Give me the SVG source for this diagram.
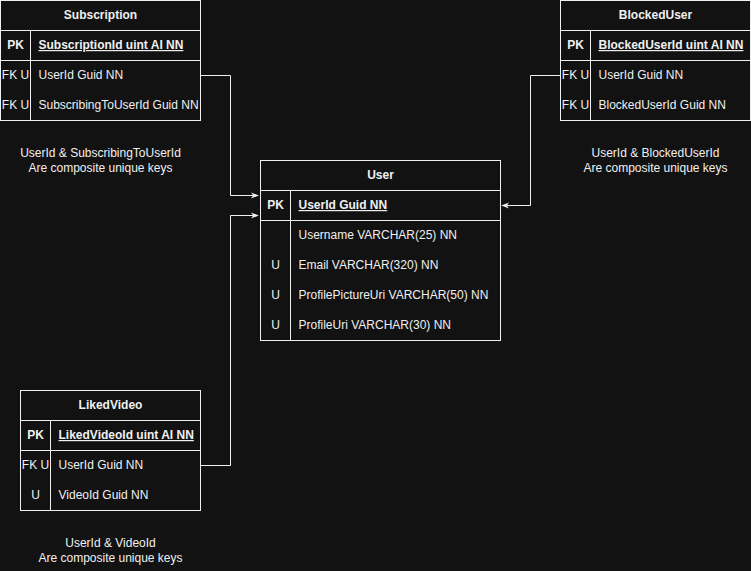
<svg xmlns="http://www.w3.org/2000/svg" width="751" height="571" viewBox="0 0 751 571">
<style>
.bg{fill:#121212}
.box{fill:#121212;stroke:#f0f0f0;stroke-width:1}
.ln{stroke:#f0f0f0;stroke-width:1;fill:none}
text{font-family:"Liberation Sans",Arial,sans-serif;font-size:12px;fill:#f0f0f0}
.h{font-weight:bold;text-anchor:middle}
.pk{font-weight:bold;text-decoration:underline}
.k{text-anchor:middle}
.kb{text-anchor:middle;font-weight:bold}
.note{text-anchor:middle}
</style>
<defs>
<marker id="arr" viewBox="0 0 10 10" refX="9" refY="5" markerWidth="8" markerHeight="8" markerUnits="userSpaceOnUse" orient="auto">
<path d="M0,1 L10,5 L0,9 L3,5 Z" fill="#f0f0f0"/>
</marker>
</defs>
<rect class="bg" x="0" y="0" width="751" height="571"/>
<g id="connectors">
<path class="ln" d="M200.5,75.5 H230.5 V195.5 H258" marker-end="url(#arr)"/>
<path class="ln" d="M200.5,465.5 H230.5 V215.5 H258" marker-end="url(#arr)"/>
<path class="ln" d="M560.5,75.5 H530.5 V205.5 H502" marker-end="url(#arr)"/>
</g>
<g id="subscription">
<rect class="box" x="0.5" y="0.5" width="200" height="120"/>
<path class="ln" d="M0.5,30.5 H200.5 M0.5,60.5 H200.5 M30.5,30.5 V120.5"/>
<text class="h" x="100.5" y="19">Subscription</text>
<text class="kb" x="15.5" y="49">PK</text>
<text class="pk" x="38.5" y="49">SubscriptionId uint AI NN</text>
<text class="k" x="15.5" y="79">FK U</text>
<text x="38.5" y="79">UserId Guid NN</text>
<text class="k" x="15.5" y="109">FK U</text>
<text x="38.5" y="109">SubscribingToUserId Guid NN</text>
</g>
<g id="subscription-note">
<text class="note" x="100.5" y="157">UserId &amp; SubscribingToUserId</text>
<text class="note" x="100.5" y="172">Are composite unique keys</text>
</g>
<g id="blockeduser">
<rect class="box" x="560.5" y="0.5" width="190" height="120"/>
<path class="ln" d="M560.5,30.5 H750.5 M560.5,60.5 H750.5 M590.5,30.5 V120.5"/>
<text class="h" x="655.5" y="19">BlockedUser</text>
<text class="kb" x="575.5" y="49">PK</text>
<text class="pk" x="598.5" y="49">BlockedUserId uint AI NN</text>
<text class="k" x="575.5" y="79">FK U</text>
<text x="598.5" y="79">UserId Guid NN</text>
<text class="k" x="575.5" y="109">FK U</text>
<text x="598.5" y="109">BlockedUserId Guid NN</text>
</g>
<g id="blockeduser-note">
<text class="note" x="655.5" y="157">UserId &amp; BlockedUserId</text>
<text class="note" x="655.5" y="172">Are composite unique keys</text>
</g>
<g id="user">
<rect class="box" x="260.5" y="160.5" width="240" height="180"/>
<path class="ln" d="M260.5,190.5 H500.5 M260.5,220.5 H500.5 M290.5,190.5 V340.5"/>
<text class="h" x="380.5" y="179">User</text>
<text class="kb" x="275.5" y="209">PK</text>
<text class="pk" x="298.5" y="209">UserId Guid NN</text>
<text x="298.5" y="239">Username VARCHAR(25) NN</text>
<text class="k" x="275.5" y="269">U</text>
<text x="298.5" y="269">Email VARCHAR(320) NN</text>
<text class="k" x="275.5" y="299">U</text>
<text x="298.5" y="299">ProfilePictureUri VARCHAR(50) NN</text>
<text class="k" x="275.5" y="329">U</text>
<text x="298.5" y="329">ProfileUri VARCHAR(30) NN</text>
</g>
<g id="likedvideo">
<rect class="box" x="20.5" y="390.5" width="180" height="120"/>
<path class="ln" d="M20.5,420.5 H200.5 M20.5,450.5 H200.5 M50.5,420.5 V510.5"/>
<text class="h" x="110.5" y="409">LikedVideo</text>
<text class="kb" x="35.5" y="439">PK</text>
<text class="pk" x="58.5" y="439">LikedVideoId uint AI NN</text>
<text class="k" x="35.5" y="469">FK U</text>
<text x="58.5" y="469">UserId Guid NN</text>
<text class="k" x="35.5" y="499">U</text>
<text x="58.5" y="499">VideoId Guid NN</text>
</g>
<g id="likedvideo-note">
<text class="note" x="110.5" y="547">UserId &amp; VideoId</text>
<text class="note" x="110.5" y="562">Are composite unique keys</text>
</g>
</svg>
